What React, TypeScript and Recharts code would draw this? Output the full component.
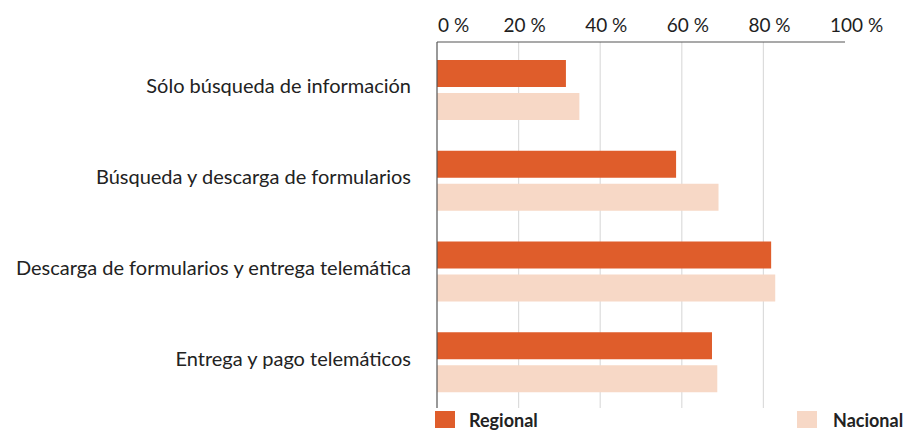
import React from "react";
import { BarChart, Bar, XAxis, YAxis, CartesianGrid, Legend } from "recharts";

const categories = [
  "Sólo búsqueda de información",
  "Búsqueda y descarga de formularios",
  "Descarga de formularios y entrega telemática",
  "Entrega y pago telemáticos",
];
const regional = [31.6, 58.6, 81.9, 67.4];
const nacional = [34.9, 69.0, 82.9, 68.7];
const xTicks = [0, 20, 40, 60, 80, 100];
const xDomain = [0, 100];
const gridValues = [20, 40, 60, 80];
const seriesNames = ["Regional", "Nacional"];

const data = categories.map((name, i) => ({ name, regional: regional[i], nacional: nacional[i] }));

const FONT = "Lato, 'Noto Sans', sans-serif";
const C_REG = "#DF5D2B";
const C_NAC = "#F7D8C6";

const XTick = (props: any) => {
  const { x, y, payload } = props;
  const v = payload.value;
  return (
    <text
      x={v === 0 ? x + 1 : x - 15}
      y={y}
      dy={-2}
      textAnchor="start"
      fontFamily={FONT}
      fontSize={19}
      fill="#1e1e1e"
    >
      {`${v} %`}
    </text>
  );
};

const YTick = (props: any) => {
  const { x, y, payload } = props;
  return (
    <text x={x} y={y} dy={3} textAnchor="end" fontFamily={FONT} fontSize={20} fill="#222">
      {payload.value}
    </text>
  );
};

const LegendContent = () => (
  <div style={{ position: "relative", width: 905, height: 23, fontFamily: FONT }}>
    <div style={{ position: "absolute", left: 435, top: 2, width: 20, height: 17, background: C_REG }} />
    <div style={{ position: "absolute", left: 469, top: 0, fontSize: 18, fontWeight: 700, color: "#222", lineHeight: "22px" }}>
      {seriesNames[0]}
    </div>
    <div style={{ position: "absolute", left: 797, top: 2, width: 20, height: 17, background: C_NAC }} />
    <div style={{ position: "absolute", left: 833, top: 0, fontSize: 18, fontWeight: 700, color: "#222", lineHeight: "22px" }}>
      {seriesNames[1]}
    </div>
  </div>
);

const gridGen = (p: any) => {
  const s = p?.xAxis?.scale;
  if (typeof s === "function") return gridValues.map((v) => s(v));
  if (s && typeof s.map === "function") return gridValues.map((v) => s.map(v));
  const off = p?.offset ?? { left: 0, width: p?.width ?? 0 };
  return gridValues.map((v) => off.left + ((v - xDomain[0]) / (xDomain[1] - xDomain[0])) * off.width);
};

export default function App() {
  return (
    <div style={{ position: "absolute", left: 0, top: 0, width: 905, height: 431, background: "#fff" }}>
      <BarChart
        width={905}
        height={431}
        data={data}
        layout="vertical"
        margin={{ top: 12, right: 60, bottom: 0, left: 0 }}
        barSize={27}
        barGap={6}
      >
        <CartesianGrid
          horizontal={false}
          stroke="#dcdcdc"
          strokeWidth={1.2}
          verticalCoordinatesGenerator={gridGen}
        />
        <XAxis
          type="number"
          orientation="top"
          domain={xDomain}
          ticks={xTicks}
          height={30}
          tickLine={false}
          axisLine={{ stroke: "#555", strokeWidth: 1.2 }}
          tick={<XTick />}
          interval={0}
        />
        <YAxis
          type="category"
          dataKey="name"
          width={437}
          tickLine={false}
          tickSize={0}
          tickMargin={26}
          axisLine={{ stroke: "#555", strokeWidth: 1.2 }}
          tick={<YTick />}
          padding={{ top: 3, bottom: 0 }}
          interval={0}
        />
        <Legend verticalAlign="bottom" content={<LegendContent />} wrapperStyle={{ left: 0, bottom: -1 }} />
        <Bar dataKey="regional" name={seriesNames[0]} fill={C_REG} isAnimationActive={false} />
        <Bar dataKey="nacional" name={seriesNames[1]} fill={C_NAC} isAnimationActive={false} />
      </BarChart>
    </div>
  );
}
